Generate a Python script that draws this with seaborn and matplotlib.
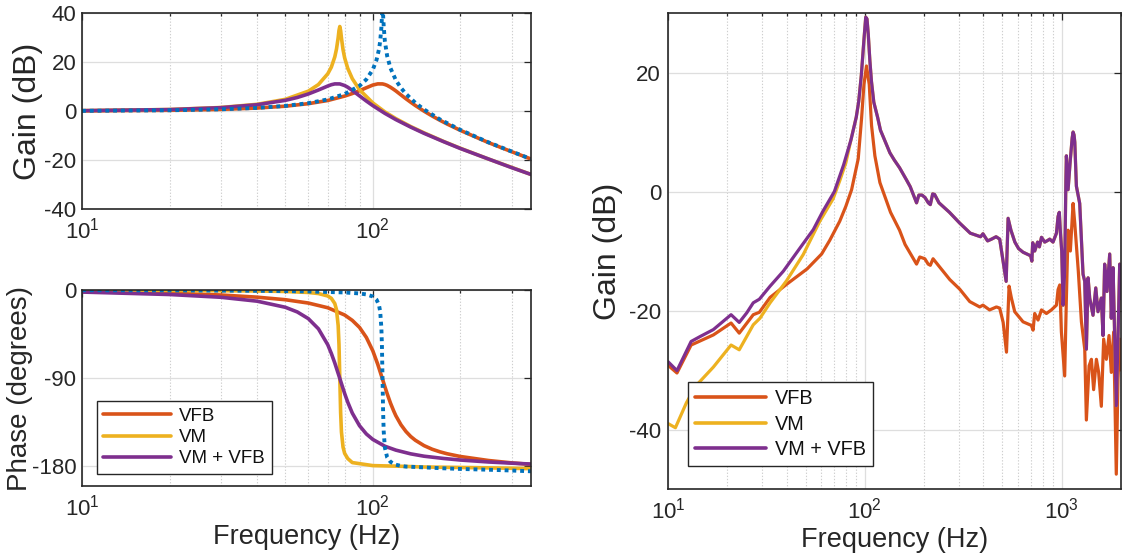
import numpy as np
import matplotlib
matplotlib.use("Agg")
import matplotlib.pyplot as plt
import seaborn as sns
from matplotlib.ticker import LogLocator, NullFormatter

# ---------------------------------------------------------------- data
# Bode response, frequency in Hz, gain in dB, phase in degrees
ol_f = [10, 20, 30, 40, 50, 60, 70, 80, 90, 95, 100, 103, 105, 106, 107, 107.5, 108,
        108.5, 109, 110, 112, 115, 120, 125, 130, 140, 150, 170, 200, 250, 300, 350]
ol_gain = [0.08, 0.30, 0.70, 1.28, 2.09, 3.2, 4.73, 6.92, 10.28, 12.9, 16.9, 20.9, 25.2,
           28.5, 34.0, 38.5, 44.0, 39.0, 34.6, 28.5, 22.5, 17.5, 12.6, 9.4, 7.0, 3.35,
           0.64, -3.4, -7.7, -12.8, -16.5, -19.6]
ol_phase = [-0.2, -0.4, -0.6, -0.8, -1.1, -1.5, -2.0, -2.5, -3.5, -4.5, -6.6, -9.9, -15.4,
            -22.0, -38.5, -58.1, -91.6, -125.0, -144.4, -160.7, -170.7, -175.4, -178.3,
            -179.5, -180.2, -180.6, -181.0, -181.8, -182.6, -183.4, -184.2, -185.0]

vfb_f = [10, 20, 30, 40, 50, 60, 70, 80, 85, 90, 95, 100, 104, 108, 110, 112, 115, 118,
         120, 125, 130, 135, 140, 150, 160, 170, 180, 200, 250, 300, 350]
vfb_gain = [0.07, 0.29, 0.67, 1.22, 1.97, 3.0, 4.3, 6.1, 7.13, 8.3, 9.5, 10.6, 11.08, 11.06,
            10.82, 10.46, 9.7, 8.82, 8.2, 6.57, 5.0, 3.58, 2.26, -0.06, -2.04, -3.76,
            -5.29, -7.9, -12.9, -16.6, -19.6]
vfb_phase = [-1.6, -3.3, -5.1, -7.3, -9.9, -13.3, -18.1, -25.5, -31.0, -38.2, -48.4, -62.1,
             -75.9, -91.1, -98.6, -105.7, -115.4, -123.5, -128.3, -137.6, -144.4, -149.5,
             -153.3, -158.8, -162.5, -165.1, -167.1, -169.9, -174.0, -176.4, -178.0]

vm_f = [10, 20, 30, 40, 50, 60, 65, 70, 72, 74, 75, 76, 76.5, 77, 77.5, 78, 79, 80, 82,
        85, 90, 100, 110, 120, 135, 150, 175, 200, 250, 300, 350]
vm_gain = [0.15, 0.61, 1.43, 2.73, 4.76, 8.1, 10.8, 15.2, 17.9, 22.1, 25.3, 29.9, 32.9,
           34.5, 32.8, 29.8, 25.0, 21.7, 17.4, 13.2, 8.7, 3.3, -0.35, -3.1, -6.34, -8.9,
           -12.4, -15.2, -19.6, -23.0, -25.9]
vm_phase = [-0.2, -0.4, -0.7, -1.0, -1.5, -2.5, -3.6, -6.1, -8.5, -13.8, -20.1, -36.2,
            -55.7, -90.5, -125.0, -144.8, -160.4, -166.7, -172.0, -176.1, -177.2, -179.2,
            -179.5, -179.7, -180.2, -180.6, -180.9, -181.1, -181.5, -181.9, -182.3]

both_f = [10, 20, 30, 40, 50, 55, 60, 65, 70, 72, 74, 77, 80, 82, 85, 90, 95, 100, 110,
          120, 135, 150, 175, 200, 250, 300, 350]
both_gain = [0.14, 0.58, 1.36, 2.57, 4.35, 5.53, 6.95, 8.58, 10.2, 10.74, 11.07, 11.06,
             10.4, 9.71, 8.4, 6.18, 4.07, 2.2, -0.95, -3.5, -6.57, -9.1, -12.49, -15.3,
             -19.6, -23.1, -25.9]
both_phase = [-2.1, -4.6, -7.4, -11.4, -17.6, -22.4, -29.2, -39.6, -55.9, -64.7, -74.5,
              -90.3, -105.6, -114.5, -125.6, -138.5, -146.9, -152.5, -159.4, -163.4,
              -167.2, -169.6, -171.9, -173.5, -175.5, -176.7, -177.6]

# Measured gain, frequency in Hz, gain in dB
m_vfb_f = [10, 11.1, 13.1, 17, 20.9, 23, 27.1, 29.1, 33, 40, 50.9, 60.3, 66.3, 74.5, 80,
           85.6, 92.5, 96.2, 98.9, 101.9, 105.2, 108.1, 112.4, 119.2, 135, 150, 160, 183,
           190, 201.6, 209.6, 215, 222, 240, 270, 303, 341, 383, 398, 430, 466, 484, 504,
           524, 540, 555, 577, 636, 701, 715, 729, 758, 789, 836, 886, 940, 958, 977, 996,
           1035, 1056, 1077, 1106, 1142, 1165, 1214, 1259, 1309, 1334, 1377, 1415, 1452,
           1500, 1540, 1589, 1633, 1685, 1739, 1786, 1836, 1893, 1931, 1970, 2000]
m_vfb_gain = [-29.2, -30.5, -25.8, -24.1, -22.1, -23.8, -20.7, -20.3, -17.8, -15.6, -13.0,
              -10.5, -8.2, -5.0, -2.5, 0.3, 5.5, 12.3, 18.0, 21.1, 18.0, 11.1, 6.0, 1.5,
              -3.5, -6.5, -8.9, -12.2, -11.0, -11.3, -12.2, -12.4, -11.3, -12.7, -14.8,
              -16.4, -18.5, -19.4, -19.1, -19.9, -19.4, -19.6, -22.0, -27.0, -15.9, -17.9,
              -20.2, -21.9, -22.5, -23.3, -20.5, -21.6, -19.9, -20.5, -19.9, -19.1, -16.5,
              -15.7, -23.6, -31.0, -17.9, -6.5, -10.0, -2.0, -5.4, -13.4, -21.9, -26.5,
              -38.4, -29.3, -28.2, -33.3, -28.2, -30.4, -36.1, -24.8, -28.2, -24.2, -30.4,
              -23.6, -47.5, -31.5, -24.8, -30.0]

m_both_f = [10, 11.1, 13.1, 14.5, 17, 20.9, 23, 25.1, 27.1, 29.1, 33, 38.5, 46.8, 54.7, 61,
            70, 78, 85, 90.4, 93, 95.9, 98.9, 101, 102.5, 104, 106, 108, 111, 116, 120, 125,
            134, 141, 150, 163, 170, 183, 188, 195, 202, 210, 215, 221, 226, 238, 269, 303,
            343, 387, 398, 420, 440, 464, 484, 503, 522, 534, 552, 578, 604, 636, 695, 705,
            712, 729, 754, 770, 789, 820, 851, 869, 903, 940, 958, 972, 985, 1000, 1016,
            1035, 1050, 1056, 1077, 1106, 1130, 1142, 1155, 1165, 1187, 1234, 1283, 1309,
            1334, 1361, 1387, 1442, 1489, 1528, 1589, 1621, 1652, 1698, 1753, 1786, 1823,
            1893, 1931, 1970, 2000]
m_both_gain = [-28.6, -30.1, -25.2, -24.4, -23.2, -20.7, -22.0, -20.4, -18.7, -18.1, -15.9,
               -13.4, -9.5, -6.4, -3.4, 0.0, 4.5, 8.7, 12.5, 15.1, 19.5, 25.5, 29.3, 29.0,
               26.5, 22.0, 18.5, 15.0, 12.5, 10.3, 8.9, 6.5, 5.3, 4.0, 1.9, 0.8, -1.9, -0.6,
               -0.6, -1.0, -1.9, -2.2, -0.4, -0.5, -1.9, -3.5, -5.3, -7.0, -7.6, -7.1, -8.3,
               -8.0, -7.6, -8.0, -11.6, -15.1, -4.5, -6.5, -8.5, -9.6, -10.2, -10.8, -11.7,
               -8.6, -10.0, -8.5, -9.3, -7.7, -8.5, -8.2, -8.0, -8.5, -7.0, -4.2, -3.5, -7.0,
               -10.0, -19.1, -13.4, 2.0, 6.0, 0.3, 5.4, 9.0, 10.0, 9.5, 8.3, 0.9, -2.0,
               -13.9, -15.1, -26.5, -14.5, -17.9, -20.8, -16.2, -20.2, -17.9, -24.2, -12.2,
               -16.8, -10.5, -21.3, -12.8, -36.0, -24.8, -12.2, -18.0]

m_vm_low_f = [10, 10.9, 12.4, 13.9, 17, 20.9, 23, 27.1, 29.3, 33, 40, 48.6, 59, 69, 74.5, 80]
m_vm_low_gain = [-39.0, -39.7, -35.5, -32.6, -29.5, -25.8, -26.6, -22.4, -21.3, -18.7,
                 -15.0, -10.6, -5.0, -1.2, 1.8, 4.8]

# above ~85 Hz the VM response lies on the VM + VFB trace
_k = int(np.searchsorted(m_both_f, 85))
m_vm_f = m_vm_low_f + m_both_f[_k:]
m_vm_gain = m_vm_low_gain + m_both_gain[_k:]

labels = ["VFB", "VM", "VM + VFB"]

# ---------------------------------------------------------------- style
BLUE, ORANGE, YELLOW, PURPLE = "#0072BD", "#D95319", "#EDB120", "#7E2F8E"
INK = "#262626"

sns.set_theme(style="white")
plt.rcParams["font.family"] = ["Liberation Sans", "DejaVu Sans"]
plt.rcParams["axes.unicode_minus"] = False
plt.rcParams["mathtext.fontset"] = "custom"
plt.rcParams["mathtext.rm"] = "Liberation Sans"

TICK_FS = 16
LW = 2.6


def trace(ax, f, v, color, label=None, **kw):
    sns.lineplot(x=np.asarray(f, float), y=np.asarray(v, float), ax=ax, color=color,
                 lw=kw.pop("lw", LW), estimator=None, sort=False, label=label,
                 legend=False, **kw)


def style_axes(ax, xlim, ylim, yticks, ypad):
    ax.set_xscale("log")
    ax.set_xlim(*xlim)
    ax.set_ylim(*ylim)
    ax.set_yticks(yticks)
    ax.xaxis.set_major_locator(LogLocator(base=10, numticks=10))
    ax.xaxis.set_minor_locator(LogLocator(base=10, subs=np.arange(2, 10), numticks=20))
    ax.xaxis.set_minor_formatter(NullFormatter())
    ax.grid(True, which="major", color="#dedede", lw=0.9, ls="-")
    ax.grid(True, which="minor", axis="x", color="#cfcfcf", lw=0.8, ls=(0, (1.2, 1.6)))
    ax.set_axisbelow(True)
    for s in ax.spines.values():
        s.set_visible(True)
        s.set_color(INK)
        s.set_linewidth(1.2)
    ax.tick_params(axis="both", which="both", direction="in", top=True, right=True,
                   colors=INK, labelcolor=INK, labelsize=TICK_FS, width=0.9)
    ax.tick_params(axis="both", which="major", length=5)
    ax.tick_params(axis="both", which="minor", length=2.5)
    ax.tick_params(axis="y", pad=ypad)
    ax.tick_params(axis="x", pad=6)
    ax.set_xlabel("")
    ax.set_ylabel("")


def add_legend(ax, anchor, fs, spacing):
    h = [plt.Line2D([], [], color=c, lw=LW) for c in (ORANGE, YELLOW, PURPLE)]
    leg = ax.legend(h, labels, loc="lower left", bbox_to_anchor=anchor, frameon=True,
                    fancybox=False, edgecolor=INK, framealpha=1, fontsize=fs,
                    handlelength=3.6, handletextpad=0.45, borderaxespad=0,
                    borderpad=0.35, labelspacing=spacing)
    leg.get_frame().set_linewidth(1.0)
    for t in leg.get_texts():
        t.set_color("#111111")


fig = plt.figure(figsize=(11.22, 5.59), dpi=100)
ax_g = fig.add_axes([0.0731, 0.6261, 0.4002, 0.3506])
ax_p = fig.add_axes([0.0731, 0.1306, 0.4002, 0.3506])
ax_m = fig.add_axes([0.5954, 0.1252, 0.4037, 0.8515])

dot = dict(ls=(0, (1.0, 1.0)), lw=2.8, dash_capstyle="butt")

# ---- simulated gain
trace(ax_g, vfb_f, vfb_gain, ORANGE)
trace(ax_g, vm_f, vm_gain, YELLOW)
trace(ax_g, both_f, both_gain, PURPLE)
trace(ax_g, ol_f, ol_gain, BLUE, **dot)
style_axes(ax_g, (10, 350), (-40, 40), [-40, -20, 0, 20, 40], 4)
ax_g.set_ylabel("Gain (dB)", fontsize=23, color=INK)
ax_g.yaxis.set_label_coords(-0.087, 0.5)

# ---- simulated phase
trace(ax_p, vfb_f, vfb_phase, ORANGE)
trace(ax_p, vm_f, vm_phase, YELLOW)
trace(ax_p, both_f, both_phase, PURPLE)
trace(ax_p, ol_f, ol_phase, BLUE, **dot)
style_axes(ax_p, (10, 350), (-200, 0), [-180, -90, 0], 4)
ax_p.set_ylabel("Phase (degrees)", fontsize=20, color=INK)
ax_p.yaxis.set_label_coords(-0.109, 0.5)
ax_p.set_xlabel("Frequency (Hz)", fontsize=19.5, color=INK, labelpad=3)
add_legend(ax_p, (0.033, 0.061), 13.5, 0.22)

# ---- measured gain
trace(ax_m, m_vfb_f, m_vfb_gain, ORANGE, lw=2.3)
trace(ax_m, m_vm_f, m_vm_gain, YELLOW, lw=2.3)
trace(ax_m, m_both_f, m_both_gain, PURPLE, lw=2.3)
style_axes(ax_m, (10, 2000), (-50, 30), [-40, -20, 0, 20], 5)
ax_m.set_ylabel("Gain (dB)", fontsize=23, color=INK)
ax_m.yaxis.set_label_coords(-0.1, 0.5)
ax_m.set_xlabel("Frequency (Hz)", fontsize=19.5, color=INK, labelpad=3)
add_legend(ax_m, (0.044, 0.048), 14.3, 0.33)

fig.savefig("out.png", dpi=100)
